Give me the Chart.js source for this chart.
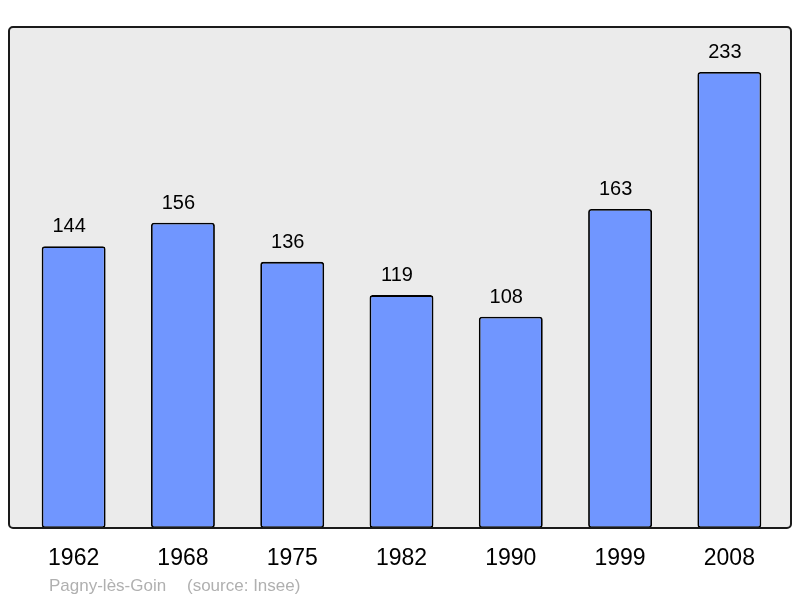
<!DOCTYPE html>
<html>
<head>
<meta charset="utf-8">
<script src="https://cdn.jsdelivr.net/npm/chart.js@4.4.0/dist/chart.umd.min.js"></script>
<style>
  html, body { margin: 0; padding: 0; background: #fff; }
  #wrap { width: 800px; height: 598px; }
</style>
</head>
<body>
<div id="wrap"><canvas id="grafica"></canvas></div>
<script>
// datos de la grafica
var annees = ['1962', '1968', '1975', '1982', '1990', '1999', '2008']
var population = [144, 156, 136, 119, 108, 163, 233]
var commune = 'Pagny-lès-Goin'
var source = '(source: Insee)'

var police = '"Liberation Sans", Arial, sans-serif'

// fondo gris, marco, etiquetas y textos
var decor = {
  id: 'decor',
  beforeDraw: function (chart) {
    var c = chart.ctx, a = chart.chartArea
    var l = a.left - 10, r = a.right + 7, t = a.top, b = a.bottom
    c.save()
    c.beginPath()
    c.roundRect(l, t, r - l, b - t, 4)
    c.fillStyle = '#ebebeb'
    c.fill()
    c.restore()
  },
  afterDraw: function (chart) {
    var c = chart.ctx, a = chart.chartArea
    var l = a.left - 10, r = a.right + 7, t = a.top, b = a.bottom
    c.save()
    c.beginPath()
    c.roundRect(l, t, r - l, b - t, 4)
    c.lineWidth = 2
    c.strokeStyle = '#1a1a1a'
    c.stroke()

    var meta = chart.getDatasetMeta(0)
    var x = chart.scales.x
    c.fillStyle = '#000'
    c.textAlign = 'center'
    c.textBaseline = 'alphabetic'
    meta.data.forEach(function (bar, i) {
      c.font = '20px ' + police
      c.fillText(population[i], bar.x - 4.5, bar.y - 14)
      c.font = '23px ' + police
      c.fillText(annees[i], x.getPixelForValue(i), 565)
    })

    c.font = '17px ' + police
    c.fillStyle = '#b0b0b0'
    c.textAlign = 'left'
    c.fillText(commune, 49, 591)
    c.fillText(source, 187, 591)
    c.restore()
  }
}

var grafica = new Chart(document.getElementById('grafica'), {
  type: 'bar',
  data: {
    labels: annees,
    datasets: [{
      data: population,
      backgroundColor: '#7096ff',
      borderColor: '#000',
      borderWidth: 1.8,
      borderRadius: 3,
      borderSkipped: false,
      barPercentage: 0.585,
      categoryPercentage: 1
    }]
  },
  options: {
    responsive: true,
    maintainAspectRatio: false,
    animation: false,
    layout: { padding: { left: 19, right: 16, top: 27, bottom: 70 } },
    plugins: { legend: { display: false }, tooltip: { enabled: false } },
    scales: {
      x: { display: false },
      y: { display: false, min: 0, max: 256 }
    }
  },
  plugins: [decor]
})
</script>
</body>
</html>
